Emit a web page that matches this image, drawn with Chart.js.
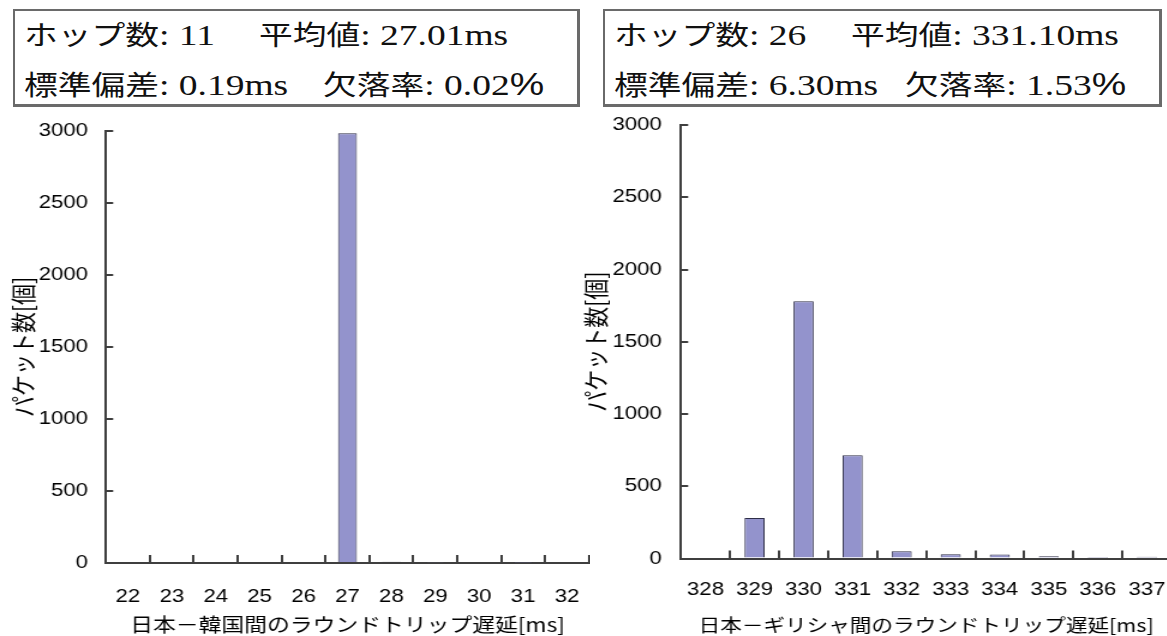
<!DOCTYPE html>
<html><head><meta charset="utf-8">
<script src="https://cdn.jsdelivr.net/npm/chart.js@4"></script>
<style>
html,body{margin:0;padding:0;background:#fff;width:1167px;height:636px;overflow:hidden;position:relative;}
.box{position:absolute;border:2px solid #6a6a6a;border-right-width:3px;border-bottom-width:3px;box-sizing:border-box;background:#fff;}
.g{position:absolute;white-space:pre;transform:scaleX(1.25);transform-origin:0 50%;line-height:36px;height:36px;color:#111;}
.j{font-family:"Noto Sans CJK JP",sans-serif;font-size:27px;}
.s{font-family:"Liberation Serif",serif;font-size:30px;}
.p{font-family:"Liberation Sans",sans-serif;font-size:31px;}
.cw{position:absolute;transform:scaleX(1.2);transform-origin:0 0;}
canvas{display:block;}
</style></head><body>

<div class="box" style="left:13px;top:9px;width:567px;height:98px;"></div>
<div class="box" style="left:603px;top:9px;width:559px;height:98px;"></div>

<div class="g" style="left:24px;top:16px;"><span class="j">ホップ数</span><span class="s">: 11</span></div>
<div class="g" style="left:259px;top:16px;"><span class="j">平均値</span><span class="s">: 27.01ms</span></div>
<div class="g" style="left:24px;top:66px;"><span class="j">標準偏差</span><span class="s">: 0.19ms</span></div>
<div class="g" style="left:323px;top:66px;"><span class="j">欠落率</span><span class="s">: 0.02</span><span class="p">%</span></div>

<div class="g" style="left:614px;top:16px;"><span class="j">ホップ数</span><span class="s">: 26</span></div>
<div class="g" style="left:851px;top:16px;"><span class="j">平均値</span><span class="s">: 331.10ms</span></div>
<div class="g" style="left:614px;top:66px;"><span class="j">標準偏差</span><span class="s">: 6.30ms</span></div>
<div class="g" style="left:905px;top:66px;"><span class="j">欠落率</span><span class="s">: 1.53</span><span class="p">%</span></div>

<div class="cw" style="left:0px;top:110px;"><canvas id="c1" width="492" height="526"></canvas></div>
<div class="cw" style="left:575px;top:110px;"><canvas id="c2" width="497" height="526"></canvas></div>

<script>
// ---- data ----
const krCategories = ['22','23','24','25','26','27','28','29','30','31','32'];
const krCounts     = [0, 0, 0, 0, 0, 2985, 8, 5, 0, 3, 0];
const grCategories = ['328','329','330','331','332','333','334','335','336','337'];
const grCounts     = [0, 280, 1780, 715, 50, 30, 28, 15, 10, 12];
const yTickValues  = [0, 500, 1000, 1500, 2000, 2500, 3000];
const yTitle       = 'パケット数[個]';
const krXTitle     = '日本－韓国間のラウンドトリップ遅延[ms]';
const grXTitle     = '日本－ギリシャ間のラウンドトリップ遅延[ms]';

const AXIS = '#3f3f3f';
const TXT = '#000000';
const tickFont = {family:'"Liberation Sans", Arial, sans-serif', size:18.5};
const titleFontY = {family:'"Noto Sans CJK JP", sans-serif', size:21};

function makeChart(id, cats, vals, xTitle, cfg) {
  return new Chart(document.getElementById(id), {
    type: 'bar',
    data: {
      labels: cats,
      datasets: [{
        data: vals,
        backgroundColor: '#9393cc',
        borderColor: '#2e2e48',
        borderWidth: 1,
        borderSkipped: 'bottom',
        categoryPercentage: 1.0,
        barPercentage: cfg.barPct
      }]
    },
    options: {
      responsive: false,
      animation: false,
      devicePixelRatio: 1,
      layout: {padding: {top: cfg.padTop, right: cfg.padRight, bottom: 0, left: 0}},
      plugins: {legend: {display: false}, tooltip: {enabled: false}},
      scales: {
        x: {
          offset: true,
          grid: {display: true, offset: true, drawOnChartArea: false, drawTicks: true,
                 tickLength: -8, color: AXIS, lineWidth: 2, tickColor: AXIS, tickWidth: 2},
          border: {display: true, color: AXIS, width: 2},
          ticks: {color: TXT, font: tickFont, padding: cfg.xTickPad, maxRotation: 0, autoSkip: false},
          title: {display: true, text: xTitle, color: TXT,
                  font: {family:'"Noto Sans CJK JP", sans-serif', size: cfg.xTitleSize},
                  padding: {top: 0, bottom: 0}},
          afterFit: s => { s.height = cfg.xHeight; s.paddingLeft = 0; s.paddingRight = 0; }
        },
        y: {
          min: 0, max: 3000,
          afterBuildTicks: s => { s.ticks = yTickValues.map(v => ({value: v})); },
          grid: {display: true, drawOnChartArea: false, drawTicks: true,
                 tickLength: -6, color: AXIS, lineWidth: 2, tickColor: AXIS, tickWidth: 2},
          border: {display: true, color: AXIS, width: 2},
          ticks: {color: TXT, font: tickFont, padding: cfg.yTickPad, callback: v => String(v)},
          title: {display: true, text: yTitle, color: TXT, font: titleFontY, padding: {top: cfg.yTitlePad, bottom: 0}},
          afterFit: s => { s.width = cfg.yWidth; s.paddingTop = 0; s.paddingBottom = 0; }
        }
      }
    }
  });
}

makeChart('c1', krCategories, krCounts, krXTitle, {
  barPct: 0.43, padTop: 21, padRight: 1.2, xHeight: 73, yWidth: 88.3,
  xTickPad: 31, yTickPad: 21, yTitlePad: 6, xTitleSize: 19
});
makeChart('c2', grCategories, grCounts, grXTitle, {
  barPct: 0.41, padTop: 15, padRight: 0, xHeight: 77.5, yWidth: 88.3,
  xTickPad: 28, yTickPad: 22, yTitlePad: 4, xTitleSize: 18
});
</script>
</body></html>
